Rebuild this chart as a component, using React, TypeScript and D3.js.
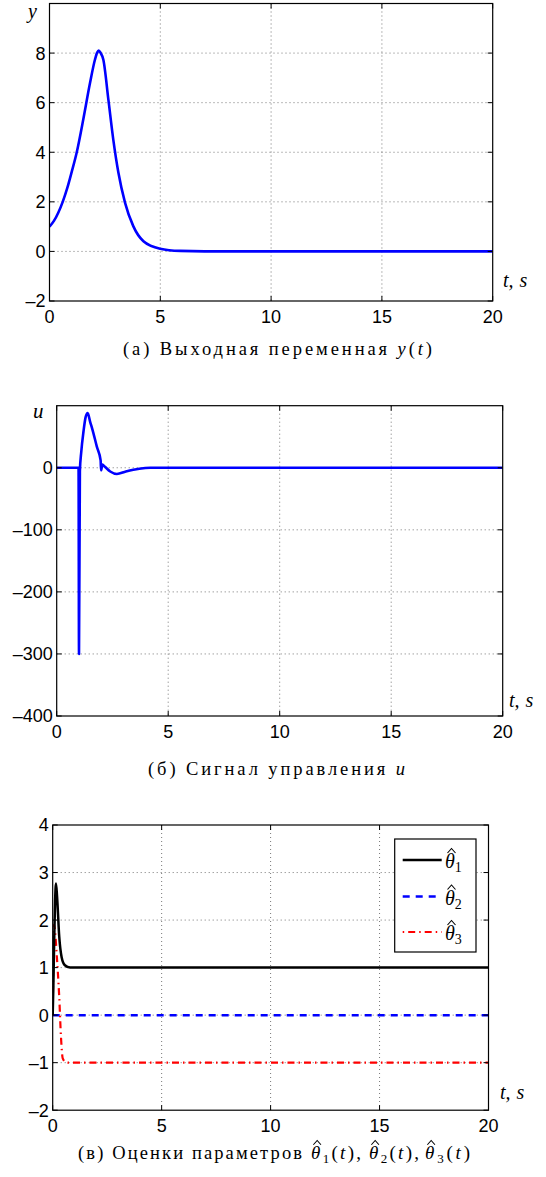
import React from "react";
import * as d3 from "d3";

// ---------- data ----------
const xTicks = [0, 5, 10, 15, 20];

// (а) output y(t)
const yT = [0, 0.2, 0.4, 0.6, 0.8, 1.0, 1.23, 1.53, 1.83, 2.05, 2.15, 2.22, 2.3, 2.43, 2.66, 2.88, 3.11, 3.41, 3.78, 4.24, 4.99, 5.9, 7, 20];
const yV = [1.0, 1.23, 1.57, 2.01, 2.55, 3.2, 4.0, 5.35, 6.8, 7.73, 8.02, 8.1, 8.02, 7.73, 6.1, 4.5, 3.17, 1.96, 1.02, 0.41, 0.11, 0.02, 0, 0];
const yTicks1 = [-2, 0, 2, 4, 6, 8];

// (б) control u(t)
const uT = [0, 0.98, 1.0, 1.04, 1.1, 1.2, 1.3, 1.39, 1.5, 1.6, 1.8, 1.97, 1.99, 2.05, 2.15, 2.4, 2.7, 3.1, 3.7, 4.2, 20];
const uV = [0, 0, -300, -5, 25, 58, 82, 88, 74, 62, 34, 12, -4, 5, 2, -6, -10, -6, -1.5, 0, 0];
const yTicks2 = [-400, -300, -200, -100, 0];

// (в) parameter estimates
const th1T = [0, 0.03, 0.07, 0.11, 0.15, 0.2, 0.3, 0.41, 0.56, 0.8, 20];
const th1V = [0, 0.6, 1.6, 2.4, 2.77, 2.5, 1.65, 1.22, 1.05, 1.0, 1.0];
const th2T = [0, 20];
const th2V = [0, 0];
const th3T = [0, 0.03, 0.06, 0.12, 0.18, 0.3, 0.38, 0.46, 0.6, 0.75, 20];
const th3V = [0, 1.2, 1.9, 1.7, 1.3, 0.38, -0.46, -0.91, -0.99, -1, -1];
const yTicks3 = [-2, -1, 0, 1, 2, 3, 4];

const legendLabels = ["1", "2", "3"];

const SANS = "'Liberation Sans', Arial, sans-serif";
const SERIF = "'Liberation Serif', 'Times New Roman', 'DejaVu Serif', serif";

type Series = { t: number[]; v: number[]; color: string; dash?: string; width: number };

function Panel(props: {
  left: number; right: number; top: number; bottom: number;
  yDomain: [number, number]; yTicks: number[]; series: Series[];
  xlabelX: number; xlabelY: number;
}) {
  const { left, right, top, bottom, yDomain, yTicks, series } = props;
  const x = d3.scaleLinear().domain([0, 20]).range([left, right]);
  const y = d3.scaleLinear().domain(yDomain).range([bottom, top]);
  const line = d3.line<[number, number]>().x((d) => x(d[0])).y((d) => y(d[1])).curve(d3.curveMonotoneX);
  const tl = 5;
  return (
    <g>
      {xTicks.filter((t) => t > 0 && t < 20).map((t) => (
        <line key={"gx" + t} x1={x(t)} x2={x(t)} y1={top} y2={bottom} stroke="#555" strokeWidth={0.8} strokeDasharray="1,3" />
      ))}
      {yTicks.filter((t) => y(t) > top + 1 && y(t) < bottom - 1).map((t) => (
        <line key={"gy" + t} x1={left} x2={right} y1={y(t)} y2={y(t)} stroke="#555" strokeWidth={0.8} strokeDasharray="1,3" />
      ))}
      <defs>
        <clipPath id={"clip" + Math.round(top)}>
          <rect x={left} y={top} width={right - left} height={bottom - top} />
        </clipPath>
      </defs>
      <g clipPath={`url(#clip${Math.round(top)})`}>
        {series.map((s, i) => (
          <path key={i} d={line(s.t.map((t, j) => [t, s.v[j]] as [number, number])) || ""} fill="none"
            stroke={s.color} strokeWidth={s.width} strokeDasharray={s.dash} strokeLinejoin="round" />
        ))}
      </g>
      <rect x={left} y={top} width={right - left} height={bottom - top} fill="none" stroke="#000" strokeWidth={1.2} />
      {xTicks.map((t) => (
        <g key={"tx" + t}>
          <line x1={x(t)} x2={x(t)} y1={bottom} y2={bottom - tl} stroke="#000" />
          <line x1={x(t)} x2={x(t)} y1={top} y2={top + tl} stroke="#000" />
          <text x={x(t)} y={bottom + 22} textAnchor="middle" style={{ fontFamily: SANS }} fontSize={18} fill="#000">{t}</text>
        </g>
      ))}
      {yTicks.map((t) => (
        <g key={"ty" + t}>
          <line x1={left} x2={left + tl} y1={y(t)} y2={y(t)} stroke="#000" />
          <line x1={right} x2={right - tl} y1={y(t)} y2={y(t)} stroke="#000" />
          <text x={left - 4} y={y(t)} dy="0.36em" textAnchor="end" style={{ fontFamily: SANS }} fontSize={18} fill="#000">
            {t < 0 ? "\u2013" + Math.abs(t) : t}
          </text>
        </g>
      ))}
      <text x={props.xlabelX} y={props.xlabelY} style={{ fontFamily: SERIF }} fontStyle="italic" fontSize={20} fill="#000">
        t,<tspan dx={6}>s</tspan>
      </text>
    </g>
  );
}

function ThetaHat(props: { x: number; y: number; size: number; sub: string; subSize: number; rest?: string; width?: number }) {
  const { x, y, size, sub, subSize, rest, width } = props;
  const k = size / 20;
  const extra = width ? { textLength: width, lengthAdjust: "spacing" } : {};
  return (
    <g>
      <path d={`M${x + 2.5 * k},${y - 15 * k} L${x + 6.5 * k},${y - 19.5 * k} L${x + 10.5 * k},${y - 15 * k}`}
        fill="none" stroke="#000" strokeWidth={1.1 * k} />
      <text x={x} y={y} style={{ fontFamily: SERIF }} fontSize={size} fill="#000" {...extra}>
        <tspan fontStyle="italic">θ</tspan>
        <tspan fontSize={subSize} dy={size * 0.2}>{sub}</tspan>
        {rest !== undefined ? (
          <>
            <tspan dy={-size * 0.2}>(</tspan>
            <tspan fontStyle="italic">t</tspan>
            <tspan>{rest}</tspan>
          </>
        ) : null}
      </text>
    </g>
  );
}

export default function App() {
  const leg = { left: 394.7, top: 839, right: 476, bottom: 952 };
  const legRows = [860, 896.5, 932];
  const legStyles = [
    { color: "#000", dash: undefined as string | undefined, width: 2.5 },
    { color: "#00f", dash: "7,6", width: 2.5 },
    { color: "#f00", dash: "1.5,4,7,4", width: 2 },
  ];
  const capX = [311, 369, 425];
  const capW = [50, 50, 45];
  const capRest = ["),", "),", ")"];
  return (
    <svg width={546} height={1177} style={{ position: "absolute", left: 0, top: 0, background: "#fff" }}>
      <rect width={546} height={1177} fill="#fff" />
      {/* Panel 1 */}
      <Panel left={49.5} right={492.7} top={3.5} bottom={301} yDomain={[-2, 10]} yTicks={yTicks1}
        series={[{ t: yT, v: yV, color: "#0000ff", width: 2.6 }]} xlabelX={503} xlabelY={287} />
      <text x={28} y={18} style={{ fontFamily: SERIF }} fontStyle="italic" fontSize={20} fill="#000">y</text>
      <text x={277.5} y={355} textAnchor="middle" style={{ fontFamily: SERIF }} fontSize={18.5} fill="#000" textLength={309} lengthAdjust="spacing">
        (а) Выходная переменная <tspan fontStyle="italic">y</tspan>(<tspan fontStyle="italic">t</tspan>)
      </text>

      {/* Panel 2 */}
      <Panel left={56.7} right={502.7} top={405.7} bottom={716} yDomain={[-400, 100]} yTicks={yTicks2}
        series={[{ t: uT, v: uV, color: "#0000ff", width: 2.6 }]} xlabelX={509} xlabelY={707} />
      <text x={33} y={418} style={{ fontFamily: SERIF }} fontStyle="italic" fontSize={21} fill="#000">u</text>
      <text x={276.5} y={775} textAnchor="middle" style={{ fontFamily: SERIF }} fontSize={18.5} fill="#000" textLength={257} lengthAdjust="spacing">
        (б) Сигнал управления <tspan fontStyle="italic">u</tspan>
      </text>

      {/* Panel 3 */}
      <Panel left={52.7} right={488.5} top={825} bottom={1110.2} yDomain={[-2, 4]} yTicks={yTicks3}
        series={[
          { t: th2T, v: th2V, color: "#0000ff", dash: "7,6", width: 2.5 },
          { t: th3T, v: th3V, color: "#ff0000", dash: "1.5,4,7,4", width: 2.2 },
          { t: th1T, v: th1V, color: "#000000", width: 2.5 },
        ]} xlabelX={500} xlabelY={1099} />
      <rect x={leg.left} y={leg.top} width={leg.right - leg.left} height={leg.bottom - leg.top} fill="#fff" stroke="#000" strokeWidth={1.2} />
      {legRows.map((ry, i) => (
        <g key={i}>
          <line x1={402.7} x2={441.7} y1={ry} y2={ry} stroke={legStyles[i].color} strokeWidth={legStyles[i].width}
            strokeDasharray={legStyles[i].dash} />
          <ThetaHat x={445} y={ry + 8} size={20} sub={legendLabels[i]} subSize={14} />
        </g>
      ))}
      <text x={78} y={1159} style={{ fontFamily: SERIF }} fontSize={18.5} fill="#000" textLength={224} lengthAdjust="spacing">
        (в) Оценки параметров
      </text>
      {capX.map((cx, i) => (
        <ThetaHat key={i} x={cx} y={1159} size={19} sub={legendLabels[i]} subSize={13} rest={capRest[i]} width={capW[i]} />
      ))}
    </svg>
  );
}
